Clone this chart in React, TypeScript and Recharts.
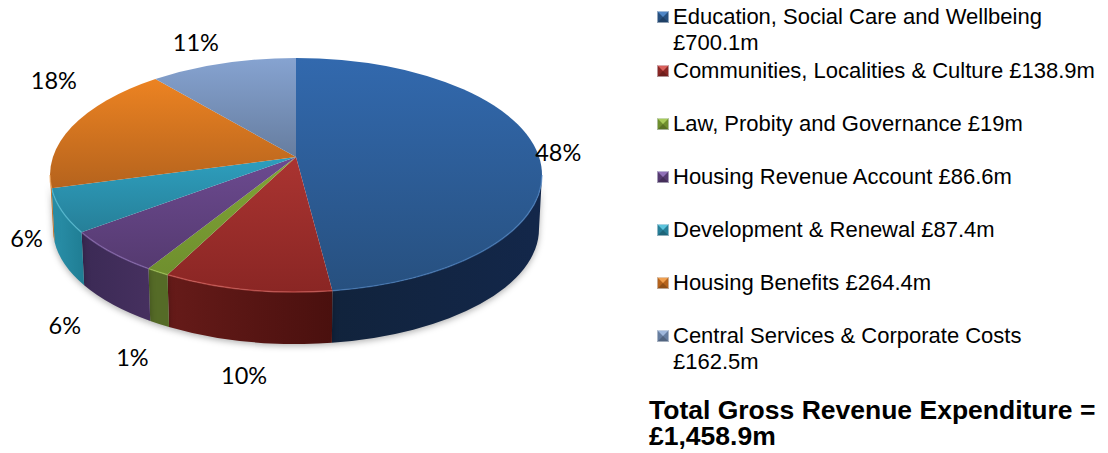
import { Pie, PieChart } from 'recharts';

const categories = [
  'Education, Social Care and Wellbeing',
  'Communities, Localities & Culture',
  'Law, Probity and Governance',
  'Housing Revenue Account',
  'Development & Renewal',
  'Housing Benefits',
  'Central Services & Corporate Costs',
];
const amounts = [700.1, 138.9, 19, 86.6, 87.4, 264.4, 162.5];
const totalLines = ['Total Gross Revenue Expenditure =', '£1,458.9m'];

const faceTop = ['#3269ae', '#aa3431', '#80a436', '#6c4a90', '#2e9fbe', '#ec8322', '#86a3d1'];
const faceBottom = ['#27507f', '#8a2624', '#6f8f2e', '#553a70', '#267f98', '#b5631d', '#667d9f'];
const wallLeft = ['#11233c', '#661b19', '#556b27', '#3b2a55', '#2a90aa', '#c06a1c', '#667d9f'];
const wallRight = ['#13274a', '#4a100e', '#556b27', '#46305f', '#1f7d93', '#c06a1c', '#667d9f'];
const rimColors = ['#4f86c6', '#d9605c', '#a8cc5a', '#9070b8', '#5cc4dc', '#f0a050', '#a0b8dc'];

const pieData = categories.map((name, i) => ({ name, value: amounts[i] }));

// pie geometry: the tilted disc has its apex above the middle of the rim ellipse
const CX = 296;
const CY = 175;
const RX = 246;
const SQUASH = 117 / 246;
const APEX_LIFT = 18;
const RAY_SQUASH = 115 / 117;
const BASE_RX = 243;
const BASE_RY = 115;
const DEPTH = 54;

const LABEL_NUDGE = [
  [22, 2],
  [-3, 33],
  [-27, 33],
  [-48, 20],
  [-38, -26],
  [-20, -45],
  [-27, -21],
];

const rad = (d: number) => (d * Math.PI) / 180;

// rim parameter (deg, clockwise from top) hit by a ray leaving the apex at pie angle theta
function rimParam(theta: number, ry: number) {
  if (theta >= 359.99) return 360;
  const u = Math.sin(rad(theta));
  const v = -Math.cos(rad(theta)) * RAY_SQUASH;
  const q = -APEX_LIFT / ry;
  const a = u * u + v * v;
  const s = (-q * v + Math.sqrt(q * q * v * v + a * (1 - q * q))) / a;
  const t = (Math.atan2(u * s, -(q + v * s)) * 180) / Math.PI;
  return t < -0.001 ? t + 360 : Math.max(t, 0);
}

function Slice(props: any) {
  const { cx, cy, outerRadius, startAngle, endAngle, index } = props;
  const rx = outerRadius;
  const ry = outerRadius * SQUASH;
  const t0 = rimParam(90 - startAngle, ry);
  const t1 = rimParam(90 - endAngle, ry);
  const rimX = (t: number) => cx + rx * Math.sin(rad(t));
  const rimY = (t: number) => cy - ry * Math.cos(rad(t));
  const baseX = (t: number) => cx + BASE_RX * Math.sin(rad(t));
  const baseY = (t: number) => cy + DEPTH - BASE_RY * Math.cos(rad(t));
  const large = t1 - t0 > 180 ? 1 : 0;
  const face = `M${cx},${cy - APEX_LIFT} L${rimX(t0)},${rimY(t0)} A${rx},${ry} 0 ${large} 1 ${rimX(t1)},${rimY(t1)} Z`;
  const a = Math.max(t0, 90);
  const b = Math.min(t1, 270);
  const hasWall = a < b;
  const rim = `M${rimX(a)},${rimY(a)} A${rx},${ry} 0 0 1 ${rimX(b)},${rimY(b)}`;
  const wall = `${rim} L${baseX(b)},${baseY(b)} A${BASE_RX},${BASE_RY} 0 0 0 ${baseX(a)},${baseY(a)} Z`;
  return (
    <g>
      <defs>
        <linearGradient id={`face${index}`} x1="0" y1="0" x2="0" y2="1">
          <stop offset="0" stopColor={faceTop[index]} />
          <stop offset="1" stopColor={faceBottom[index]} />
        </linearGradient>
        <linearGradient id={`wall${index}`} x1="0" y1="0" x2="1" y2="0">
          <stop offset="0" stopColor={wallLeft[index]} />
          <stop offset="1" stopColor={wallRight[index]} />
        </linearGradient>
      </defs>
      {hasWall && (
        <path
          d={wall}
          fill={`url(#wall${index})`}
          style={{ filter: 'drop-shadow(0 2px 3px rgba(0,0,0,0.3))' }}
        />
      )}
      <path d={face} fill={`url(#face${index})`} />
      {hasWall && (
        <path d={rim} fill="none" stroke={rimColors[index]} strokeWidth={1.5} strokeOpacity={0.6} />
      )}
    </g>
  );
}

function SliceLabel(props: any) {
  const { cx, cy, outerRadius, midAngle, percent, index } = props;
  const ry = outerRadius * SQUASH;
  const t = rimParam(90 - midAngle, ry);
  const lower = t > 90 && t < 270;
  const x = lower ? cx + BASE_RX * Math.sin(rad(t)) : cx + outerRadius * Math.sin(rad(t));
  const y = lower ? cy + DEPTH - BASE_RY * Math.cos(rad(t)) : cy - ry * Math.cos(rad(t));
  return (
    <text
      x={x + LABEL_NUDGE[index][0]}
      y={y + LABEL_NUDGE[index][1]}
      textAnchor="middle"
      dominantBaseline="central"
      fontFamily="Lato, sans-serif"
      fontSize={23.5}
      fill="#000"
    >
      {Math.round(percent * 100)}%
    </text>
  );
}

function Marker({ i }: { i: number }) {
  return (
    <svg
      width={12}
      height={12}
      style={{ position: 'absolute', left: 657, top: 7 }}
    >
      <rect width={12} height={12} fill={faceBottom[i]} />
      <polygon points="0,0 12,0 6,6" fill={rimColors[i]} />
      <polygon points="0,12 12,12 6,6" fill="#000" fillOpacity={0.2} />
      <rect x={0.5} y={0.5} width={11} height={11} fill="none" stroke="#d8dde4" strokeOpacity={0.6} />
    </svg>
  );
}

export default function App() {
  return (
    <div style={{ position: 'absolute', left: 0, top: 0, width: 1108, height: 453, background: '#fff', overflow: 'hidden' }}>
      <style>{'body{margin:0}'}</style>
      <div style={{ position: 'absolute', left: 0, top: 0 }}>
        <PieChart width={640} height={453} margin={{ top: 0, right: 0, bottom: 0, left: 0 }}>
          <Pie
            data={pieData}
            dataKey="value"
            nameKey="name"
            cx={CX}
            cy={CY}
            outerRadius={RX}
            startAngle={90}
            endAngle={-270}
            shape={Slice}
            label={SliceLabel}
            labelLine={false}
            stroke="none"
            isAnimationActive={false}
          />
        </PieChart>
      </div>
      <div style={{ position: 'absolute', left: 0, top: 4, width: 1108, fontFamily: '"Liberation Sans", Arial, sans-serif', fontSize: 22, lineHeight: '26px', color: '#000' }}>
        {categories.map((name, i) => (
          <div key={name} style={{ position: 'relative', paddingLeft: 673, width: 428, marginBottom: i === 0 ? 2 : 27 }}>
            <Marker i={i} />
            {name} £{amounts[i]}m
          </div>
        ))}
      </div>
      <div style={{ position: 'absolute', left: 649, top: 397, fontFamily: '"Liberation Sans", Arial, sans-serif', fontWeight: 700, fontSize: 26.5, lineHeight: '26px', color: '#000', whiteSpace: 'nowrap' }}>
        {totalLines.map((line) => (
          <div key={line}>{line}</div>
        ))}
      </div>
    </div>
  );
}
